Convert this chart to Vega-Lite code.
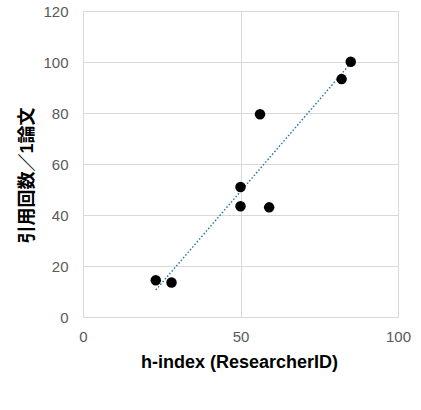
{
  "$schema": "https://vega.github.io/schema/vega-lite/v6.json",
  "width": 315,
  "height": 306,
  "autosize": {"type": "none"},
  "padding": {"left": 83, "top": 11, "right": 23, "bottom": 93},
  "background": "white",
  "config": {
    "view": {"stroke": null},
    "font": "Liberation Sans",
    "axis": {
      "gridColor": "#d9d9d9",
      "gridWidth": 1,
      "domainColor": "#d9d9d9",
      "domainWidth": 1,
      "ticks": false,
      "labelFont": "Liberation Sans",
      "labelFontSize": 15,
      "labelColor": "#595959",
      "labelFlush": false,
      "titleFont": "Liberation Sans, Noto Sans CJK JP",
      "titleFontSize": 18,
      "titleFontWeight": "bold",
      "titleColor": "#000000"
    }
  },
  "datasets": {
    "points": [
      {"h": 23.1, "c": 14.4},
      {"h": 28.1, "c": 13.5},
      {"h": 50.0, "c": 51.0},
      {"h": 50.0, "c": 43.4},
      {"h": 56.2, "c": 79.5},
      {"h": 59.1, "c": 43.0},
      {"h": 82.1, "c": 93.3},
      {"h": 85.0, "c": 100.1}
    ],
    "trend": [
      {"h": 23.1, "c": 10.6},
      {"h": 85.0, "c": 99.5}
    ]
  },
  "layer": [
    {
      "data": {"name": "trend"},
      "mark": {"type": "line", "color": "#2e75b6", "strokeWidth": 1.5, "strokeDash": [1.5, 2]},
      "encoding": {
        "x": {"field": "h", "type": "quantitative"},
        "y": {"field": "c", "type": "quantitative"}
      }
    },
    {
      "data": {"name": "points"},
      "mark": {"type": "circle", "color": "#000000", "opacity": 1, "size": 110},
      "encoding": {
        "x": {
          "field": "h", "type": "quantitative",
          "scale": {"domain": [0, 100], "nice": false},
          "axis": {"values": [0, 50, 100], "title": "h-index (ResearcherID)", "labelPadding": 12, "titleY": 45, "titleBaseline": "middle", "titleX": 156}
        },
        "y": {
          "field": "c", "type": "quantitative",
          "scale": {"domain": [0, 120], "nice": false},
          "axis": {"values": [0, 20, 40, 60, 80, 100, 120], "title": "引用回数／1論文", "labelPadding": 15, "titleX": -56, "titleY": 164, "titleAngle": -90, "titleBaseline": "middle", "titleAlign": "center"}
        }
      }
    }
  ]
}
